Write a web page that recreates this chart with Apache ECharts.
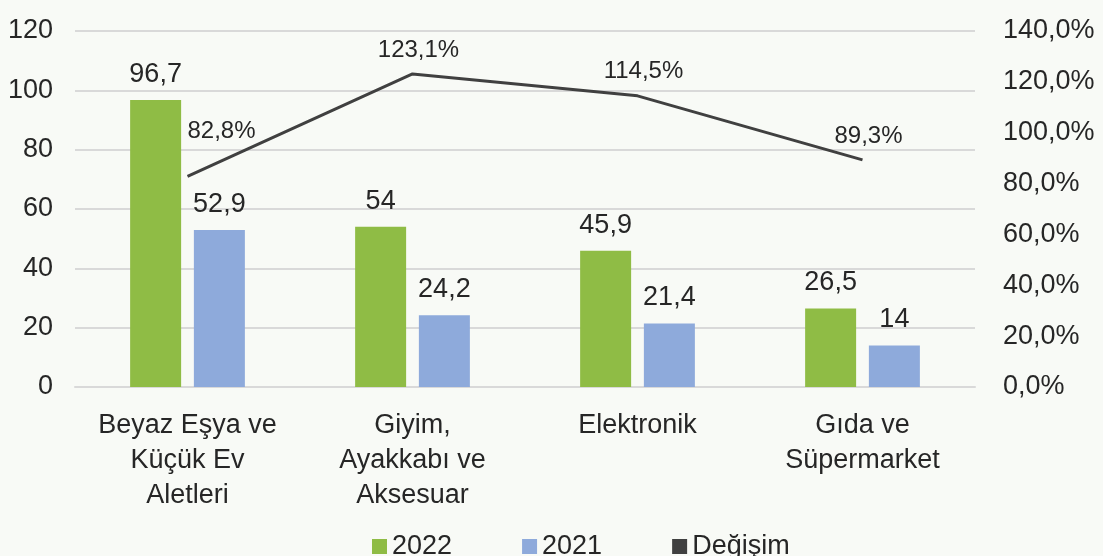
<!DOCTYPE html>
<html>
<head>
<meta charset="utf-8">
<script src="https://cdn.jsdelivr.net/npm/echarts@6/dist/echarts.min.js"></script>
<style>
  html, body { margin: 0; padding: 0; background: #f8faf6; }
  #chart { width: 1103px; height: 556px; }
</style>
</head>
<body>
<div id="chart"></div>
<script>
const categories = ['Beyaz Eşya ve\nKüçük Ev\nAletleri', 'Giyim,\nAyakkabı ve\nAksesuar', 'Elektronik', 'Gıda ve\nSüpermarket'];
const values2022 = [96.7, 54, 45.9, 26.5];
const values2021 = [52.9, 24.2, 21.4, 14];
const degisim = [82.8, 123.1, 114.5, 89.3];

const comma = v => String(v).replace('.', ',');
const font = 'Liberation Sans';
const textColor = '#262626';

const chart = echarts.init(document.getElementById('chart'));

const lineData = degisim.map((v, i) => {
  // first label sits to the right of the point, like the source
  if (i === 0) return { value: v, label: { offset: [34, -21] } };
  return { value: v, label: { offset: [6, 0] } };
});

chart.setOption({
  backgroundColor: '#f8faf6',
  textStyle: { fontFamily: font },
  grid: { left: 75, right: 128, top: 31, bottom: 169 },
  legend: {
    bottom: -9,
    left: 367,
    icon: 'rect',
    itemWidth: 15,
    itemHeight: 15,
    itemGap: 70,
    textStyle: { fontSize: 27, color: textColor, fontFamily: font },
    data: ['2022', '2021', 'Değişim']
  },
  xAxis: {
    type: 'category',
    data: categories,
    axisLine: { lineStyle: { color: '#d9d9d9', width: 2 } },
    axisTick: { show: false },
    axisLabel: { fontSize: 27, color: textColor, lineHeight: 35, margin: 21, interval: 0 }
  },
  yAxis: [
    {
      type: 'value', min: 0, max: 120, interval: 20,
      axisLabel: { fontSize: 27, color: textColor, margin: 22 },
      splitLine: { lineStyle: { color: '#d9d9d9', width: 2 } },
      axisLine: { show: false }, axisTick: { show: false }
    },
    {
      type: 'value', min: 0, max: 140, interval: 20,
      axisLabel: { fontSize: 27, color: textColor, margin: 28, formatter: v => comma(v.toFixed(1)) + '%' },
      splitLine: { show: false },
      axisLine: { show: false }, axisTick: { show: false }
    }
  ],
  series: [
    {
      name: '2022', type: 'bar', data: values2022, barWidth: 51, barGap: '25%',
      itemStyle: { color: '#8fbc45' },
      label: { show: true, position: 'top', distance: 12, fontSize: 27, color: textColor, formatter: p => comma(p.value) }
    },
    {
      name: '2021', type: 'bar', data: values2021, barWidth: 51,
      itemStyle: { color: '#8eaadb' },
      label: { show: true, position: 'top', distance: 12, fontSize: 27, color: textColor, formatter: p => comma(p.value) }
    },
    {
      name: 'Değişim', type: 'line', yAxisIndex: 1, data: lineData,
      symbol: 'circle', symbolSize: 0, showSymbol: true,
      lineStyle: { color: '#404040', width: 3 },
      itemStyle: { color: '#404040' },
      label: { show: true, position: 'top', distance: 12, fontSize: 24, color: textColor, formatter: p => comma(p.value.toFixed(1)) + '%' }
    }
  ]
});
</script>
</body>
</html>
